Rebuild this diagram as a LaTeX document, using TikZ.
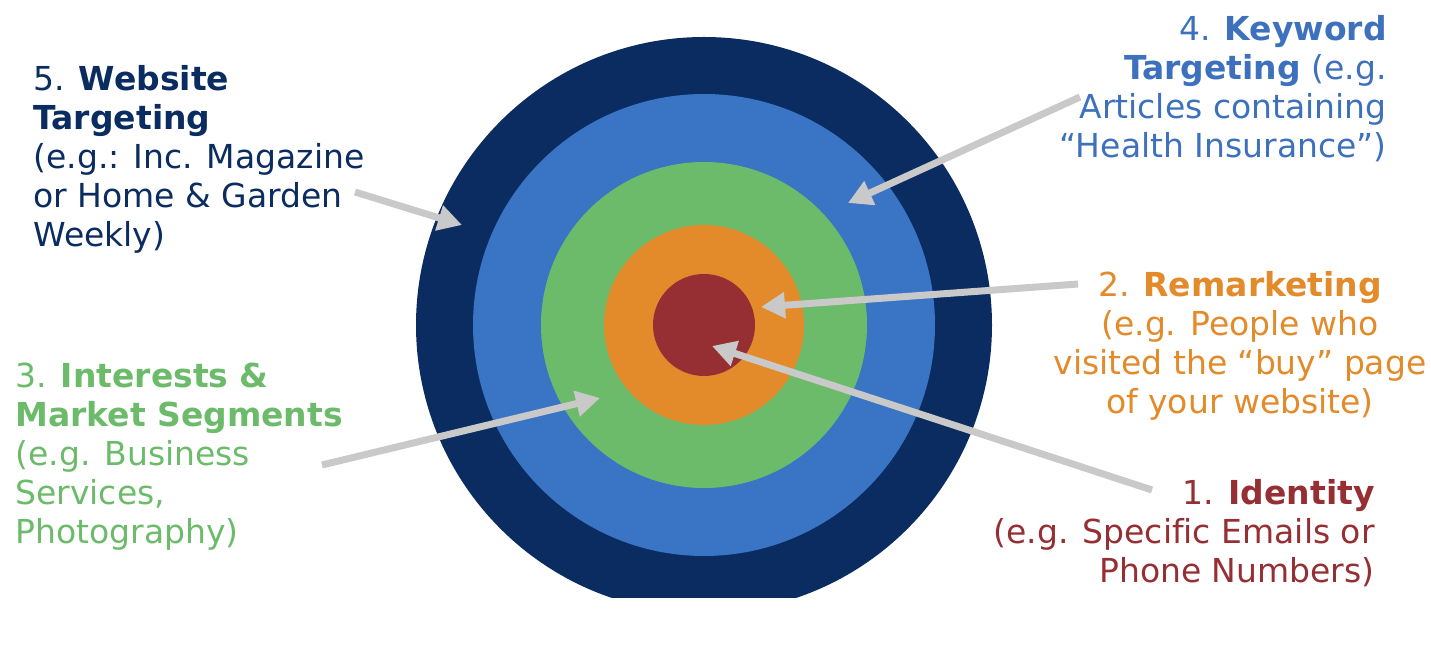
\documentclass[tikz,border=0pt]{standalone}
\usepackage{fontspec}
\setmainfont[Ligatures=NoCommon]{DejaVu Sans}
\usetikzlibrary{arrows.meta}
\definecolor{navy}{HTML}{0A2C61}
\definecolor{skyblue}{HTML}{3A74C4}
\definecolor{leafgreen}{HTML}{6CBB6A}
\definecolor{amber}{HTML}{E38A2A}
\definecolor{brick}{HTML}{962F33}
\definecolor{keyblue}{HTML}{3D71BD}
\definecolor{arrowgray}{HTML}{C9C9C9}
\tikzset{
  ring/.style={circle,inner sep=0pt,minimum size=#1},
  blurb/.style={inner sep=0pt,font=\fontsize{16.5}{19.5}\selectfont},
  pointer/.style={draw=arrowgray,line width=3.5pt,-{Triangle[length=12pt,width=12.5pt]}}
}
\begin{document}
\begin{tikzpicture}[x=0.5pt,y=-0.5pt]
  \useasboundingbox (0,0) rectangle (1431,667);
  % target, cut off at the bottom
  \begin{scope}
    \clip (0,0) rectangle (1431,598);
    \node[ring=288pt,fill=navy] (ring5) at (704,325) {};
    \node[ring=231pt,fill=skyblue] (ring4) at (704,325) {};
    \node[ring=163pt,fill=leafgreen] (ring3) at (704,325) {};
    \node[ring=100pt,fill=amber] (ring2) at (704,325) {};
    \node[ring=51pt,fill=brick] (ring1) at (704,325) {};
  \end{scope}
  % texts
  \node[blurb,anchor=north west,align=left,text=navy] (web) at (33,65)
    {5. \textbf{Website}\\\textbf{Targeting}\\(e.g.: Inc. Magazine\\or Home \& Garden\\Weekly)};
  \node[blurb,anchor=north east,align=right,text=keyblue] (key) at (1387,15)
    {4. \textbf{Keyword}\\\textbf{Targeting} (e.g.\\Articles containing\\“Health Insurance”)};
  \node[blurb,anchor=north,align=center,text=amber] (remark) at (1240,271)
    {2. \textbf{Remarketing}\\(e.g. People who\\visited the “buy” page\\of your website)};
  \node[blurb,anchor=north east,align=right,text=brick] (ident) at (1375,479)
    {1. \textbf{Identity}\\(e.g. Specific Emails or\\Phone Numbers)};
  \node[blurb,anchor=north west,align=left,text=leafgreen] (interest) at (15,363)
    {3. \textbf{Interests \&}\\\textbf{Market Segments}\\(e.g. Business\\Services,\\Photography)};
  % arrow ends
  \coordinate (web-from) at (355,192);
  \coordinate (web-to) at (462,225);
  \coordinate (key-from) at (1080,97);
  \coordinate (key-to) at (848,203);
  \coordinate (remark-from) at (1078,284);
  \coordinate (remark-to) at (761,307);
  \coordinate (ident-from) at (1152,490);
  \coordinate (ident-to) at (712,346);
  \coordinate (interest-from) at (322,465);
  \coordinate (interest-to) at (600,398);
  \draw[pointer] (web-from) -- (web-to);
  \draw[pointer] (key-from) -- (key-to);
  \draw[pointer] (remark-from) -- (remark-to);
  \draw[pointer] (ident-from) -- (ident-to);
  \draw[pointer] (interest-from) -- (interest-to);
\end{tikzpicture}
\end{document}
